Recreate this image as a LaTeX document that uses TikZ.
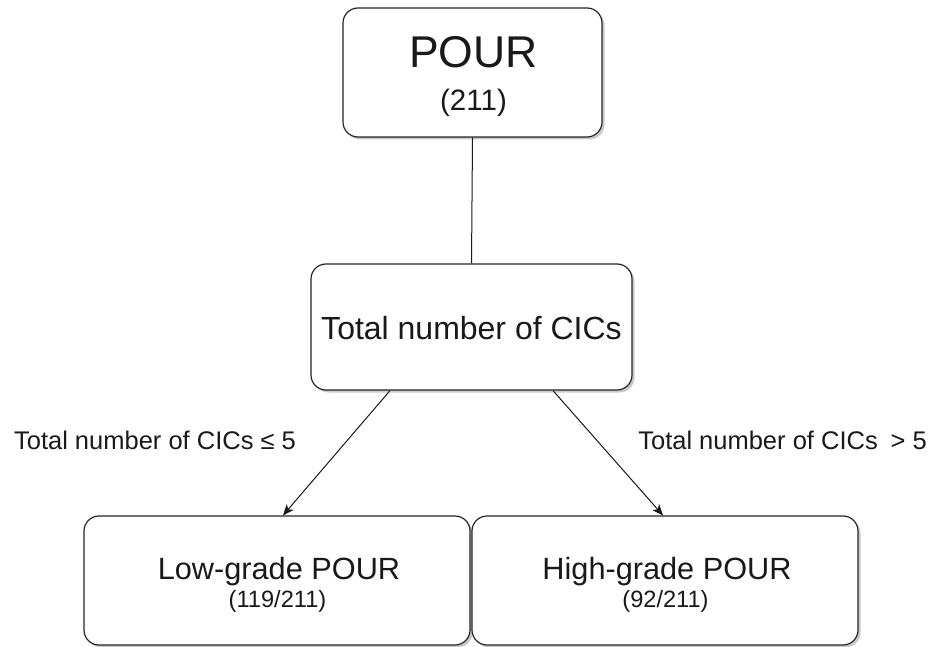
\documentclass[tikz,border=0pt]{standalone}
\usepackage{fontspec}
\setmainfont{Liberation Sans}
\usetikzlibrary{arrows.meta,shadows}
\begin{document}
\begin{tikzpicture}[x=1pt,y=-1pt,
  box/.style={draw=black!85,line width=1.2pt,rounded corners=15pt,fill=white,
    drop shadow={shadow xshift=2.5pt,shadow yshift=-2.5pt,opacity=0.35,fill=black!60},
    inner sep=0pt},
  txt/.style={anchor=base,inner sep=0pt,text=black!90},
  conn/.style={draw=black!90,line width=1pt},
  arr/.style={conn,-{Stealth[length=11pt,width=9pt,inset=3pt]}}]
\useasboundingbox (0,0) rectangle (936,647);
\fill[white] (0,0) rectangle (936,647);
% boxes
\node[box,minimum width=259pt,minimum height=129pt] (top) at (472.5,72.5) {};
\node[box,minimum width=321pt,minimum height=126pt] (mid) at (471.5,327) {};
\node[box,minimum width=386pt,minimum height=129pt] (bl) at (277,580.5) {};
\node[box,minimum width=386pt,minimum height=129pt] (br) at (665,580.5) {};
% texts
\node[txt,font=\fontsize{44.5}{48}\selectfont] (toptitle) at (473.5,67.5) {POUR};
\node[txt,font=\fontsize{29.5}{32}\selectfont] (topsub) at (473.5,111) {(211)};
\node[txt,font=\fontsize{32}{35}\selectfont] (midtitle) at (471.5,339.5) {Total number of CICs};
\node[txt,font=\fontsize{30.7}{33}\selectfont] (bltitle) at (279,579) {Low-grade POUR};
\node[txt,font=\fontsize{23.6}{26}\selectfont] (blsub) at (277.5,607) {(119/211)};
\node[txt,font=\fontsize{30.7}{33}\selectfont] (brtitle) at (667,579) {High-grade POUR};
\node[txt,font=\fontsize{23.6}{26}\selectfont] (brsub) at (665.5,607) {(92/211)};
% connectors
\draw[conn] (top.south) -- (mid.north);
\draw[arr] ([xshift=-81.5pt]mid.south) -- ([xshift=6pt]bl.north);
\draw[arr] ([xshift=81.5pt]mid.south) -- ([xshift=-2pt]br.north);
% labels
\node[txt,font=\fontsize{25.5}{28}\selectfont] (lablow) at (155,449) {Total number of CICs ≤ 5};
\node[txt,font=\fontsize{25.5}{28}\selectfont] (labhigh) at (782.5,449) {Total number of CICs\hspace{0.5em}> 5};
\end{tikzpicture}
\end{document}
